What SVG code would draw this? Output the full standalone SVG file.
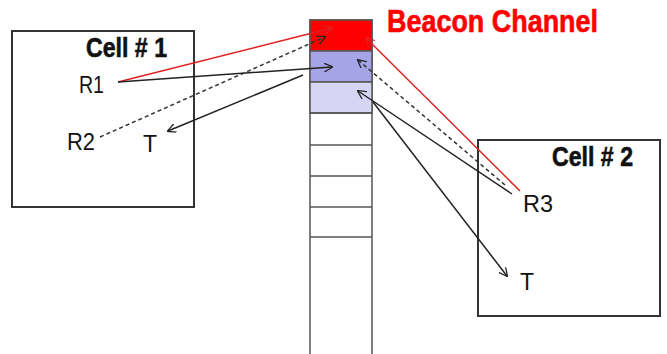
<svg xmlns="http://www.w3.org/2000/svg" width="667" height="354" viewBox="0 0 667 354">
<style>
.box{fill:none;stroke:#333;stroke-width:2}
.slot{stroke:#555;stroke-width:1.5}
.lbl{font-family:"Liberation Sans",Arial,sans-serif;font-size:23px;fill:#111}
.title{font-family:"Liberation Sans",Arial,sans-serif;font-weight:bold;fill:#111;stroke:#111;stroke-width:0.6}
.blk{stroke:#222;stroke-width:1.5;fill:none}
.red{stroke:#e02020;stroke-width:1.5;fill:none}
.dash{stroke:#333;stroke-width:1.5;fill:none;stroke-dasharray:4 3}
</style>
<defs>
<marker id="ah" viewBox="0 0 10 10" refX="9" refY="5" markerWidth="9" markerHeight="9" markerUnits="userSpaceOnUse" orient="auto">
<path d="M0,0 L10,5 L0,10" fill="none" stroke="#222" stroke-width="1.4"/>
</marker>
<marker id="ahr" viewBox="0 0 10 10" refX="9" refY="5" markerWidth="9" markerHeight="9" markerUnits="userSpaceOnUse" orient="auto">
<path d="M0,0 L10,5 L0,10" fill="none" stroke="#e02020" stroke-width="1.4"/>
</marker>
</defs>
<rect width="667" height="354" fill="#fff"/>
<g id="channel">
<rect x="310" y="20" width="62" height="340" fill="#fff" class="slot"/>
<rect x="310" y="20" width="62" height="31" fill="#ff0000" class="slot"/>
<rect x="310" y="51" width="62" height="31" fill="#a4a4e6" class="slot"/>
<rect x="310" y="82" width="62" height="31" fill="#d6d6f3" class="slot"/>
<line x1="310" y1="113" x2="372" y2="113" class="slot"/>
<line x1="310" y1="145" x2="372" y2="145" class="slot"/>
<line x1="310" y1="176" x2="372" y2="176" class="slot"/>
<line x1="310" y1="207" x2="372" y2="207" class="slot"/>
<line x1="310" y1="237" x2="372" y2="237" class="slot"/>
<text x="387" y="32" class="title" font-size="32" style="fill:#ff0000;stroke:#ff0000" textLength="211" lengthAdjust="spacingAndGlyphs">Beacon Channel</text>
</g>
<g id="cell1">
<rect x="12" y="31" width="182" height="176" class="box"/>
<text x="86" y="57" class="title" font-size="27" textLength="81" lengthAdjust="spacingAndGlyphs">Cell # 1</text>
<text x="79" y="93" class="lbl" textLength="25" lengthAdjust="spacingAndGlyphs">R1</text>
<text x="67" y="150" class="lbl" textLength="28" lengthAdjust="spacingAndGlyphs">R2</text>
<text x="143" y="152" class="lbl">T</text>
</g>
<g id="cell2">
<rect x="478" y="140" width="182" height="176" class="box"/>
<text x="552" y="166" class="title" font-size="27" textLength="81" lengthAdjust="spacingAndGlyphs">Cell # 2</text>
<text x="523" y="212" class="lbl" textLength="30" lengthAdjust="spacingAndGlyphs">R3</text>
<text x="520" y="290" class="lbl">T</text>
</g>
<g id="connectors">
<line x1="118" y1="82" x2="332" y2="28" class="red" marker-end="url(#ahr)"/>
<line x1="118" y1="82" x2="332" y2="67" class="blk" marker-end="url(#ah)"/>
<line x1="100" y1="137" x2="325" y2="37" class="dash" marker-end="url(#ah)"/>
<line x1="303" y1="75" x2="168" y2="131" class="blk" marker-end="url(#ah)"/>
<line x1="520" y1="191" x2="366" y2="38" class="red" marker-end="url(#ahr)"/>
<line x1="505" y1="185" x2="358" y2="60" class="dash" marker-end="url(#ah)"/>
<line x1="512" y1="194" x2="358" y2="91" class="blk" marker-end="url(#ah)"/>
<line x1="373" y1="102" x2="507" y2="276" class="blk" marker-end="url(#ah)"/>
</g>
</svg>
